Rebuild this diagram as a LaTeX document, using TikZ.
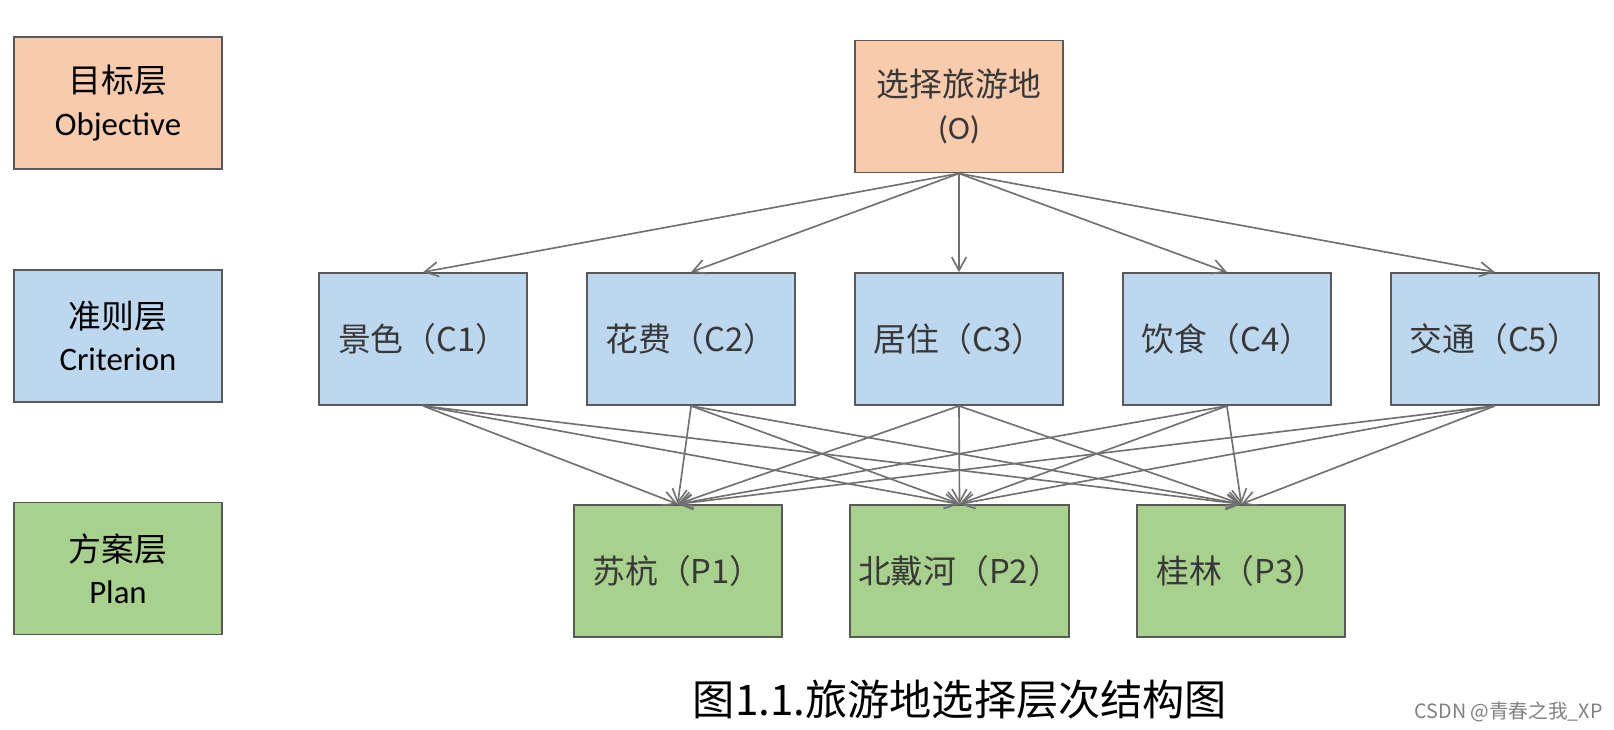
\documentclass[tikz,border=0pt]{standalone}
\usepackage{fontspec}
\setmainfont{Carlito}
\newfontfamily\cjk{Noto Sans CJK SC}
\usetikzlibrary{positioning,arrows.meta}
\definecolor{objfill}{HTML}{F8CBAD}
\definecolor{crifill}{HTML}{BDD7EE}
\definecolor{plnfill}{HTML}{A9D18E}
\definecolor{boxline}{HTML}{595959}
\definecolor{arrowline}{HTML}{707070}

\begin{document}
\begin{tikzpicture}
[x=0.015cm,y=-0.015cm,
layer box/.style={draw=boxline,line width=0.8pt,minimum width=3.12cm,minimum height=1.98cm,
  align=center,font=\fontsize{14}{18}\selectfont},
objective/.style={layer box,fill=objfill},
criterion/.style={layer box,fill=crifill},
plan/.style={layer box,fill=plnfill},
element/.style={text=black!78},
link/.style={draw=arrowline,line width=0.7pt,-{Straight Barb[length=2mm,width=2.2mm]}},
node distance=0.87cm]
\useasboundingbox (0,0) rectangle (1614,729);
% layer names
\node[objective] (obj) at (118,103)	{{\cjk 目标层}\\Objective};
\node[criterion] (cri) at (118,336)	{{\cjk 准则层}\\Criterion};
\node[plan] (pln) at (118,568.5)	{{\cjk 方案层}\\Plan};
% hierarchy
\node[objective,element] (O) at (959,106.5)	{{\cjk 选择旅游地}\\(O)};
\node[criterion,element] (C3) at (959,339)	{\cjk 居住（C3）};
\node[criterion,element] (C2) [left=of C3]	{\cjk 花费（C2）};
\node[criterion,element] (C1) [left=of C2]	{\cjk 景色（C1）};
\node[criterion,element] (C4) [right=of C3]	{\cjk 饮食（C4）};
\node[criterion,element] (C5) [right=of C4]	{\cjk 交通（C5）};
\node[plan,element] (P2) at (959.5,571)	{\cjk 北戴河（P2）};
\node[plan,element] (P1) [left=1cm of P2]	{\cjk 苏杭（P1）};
\node[plan,element] (P3) [right=1cm of P2]	{\cjk 桂林（P3）};
\path[every edge/.style=link]
(O.south)	edge (C1.north)
edge (C2.north)
edge (C3.north)
edge (C4.north)
edge (C5.north)
(C1.south)	edge (P1.north)
edge (P2.north)
edge (P3.north)
(C2.south)	edge (P1.north)
edge (P2.north)
edge (P3.north)
(C3.south)	edge (P1.north)
edge (P2.north)
edge (P3.north)
(C4.south)	edge (P1.north)
edge (P2.north)
edge (P3.north)
(C5.south)	edge (P1.north)
edge (P2.north)
edge (P3.north);
% caption
\node[font=\cjk\fontsize{18}{22}\selectfont] (cap) at (960,700) {图1.1.旅游地选择层次结构图};
\node[font=\cjk\fontsize{8.4}{10}\selectfont,text=gray,anchor=east] (mark) at (1611,712) {CSDN @青春之我\_XP};
\end{tikzpicture}
\end{document}
